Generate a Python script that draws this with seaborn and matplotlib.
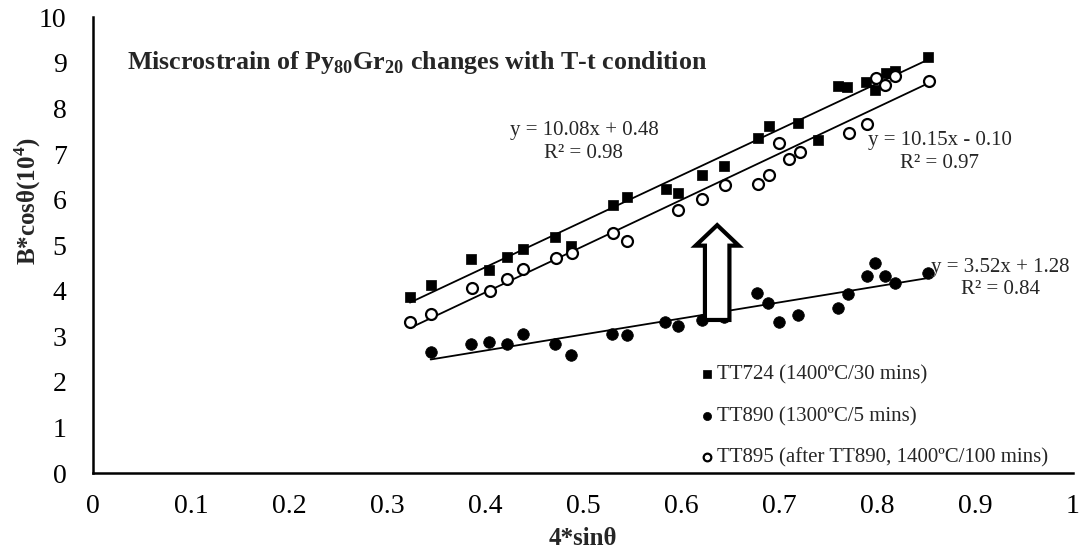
import numpy as np
import pandas as pd
import matplotlib
matplotlib.use("Agg")
import matplotlib.pyplot as plt
import seaborn as sns

# --- data -------------------------------------------------------------
tt724_x = [0.3235, 0.3446, 0.3854, 0.4044, 0.4221, 0.4385, 0.4714, 0.4874,
           0.5309, 0.5446, 0.5847, 0.5966, 0.6211, 0.6442, 0.6783, 0.6895,
           0.7197, 0.7401, 0.7605, 0.7697, 0.7888, 0.7980, 0.8090, 0.8180,
           0.8520]
tt724_y = [3.87, 4.12, 4.69, 4.45, 4.74, 4.91, 5.17, 4.98,
           5.88, 6.05, 6.24, 6.15, 6.54, 6.74, 7.36, 7.61,
           7.68, 7.30, 8.49, 8.46, 8.58, 8.41, 8.78, 8.82,
           9.12]

tt890_x = [0.3446, 0.3854, 0.4040, 0.4221, 0.4385, 0.4714, 0.4874,
           0.5299, 0.5446, 0.5837, 0.5966, 0.6211, 0.6442, 0.6772, 0.6891,
           0.6997, 0.7197, 0.7605, 0.7700, 0.7895, 0.7980, 0.8080, 0.8180,
           0.8520]
tt890_y = [2.66, 2.83, 2.88, 2.83, 3.06, 2.84, 2.59,
           3.05, 3.03, 3.32, 3.22, 3.36, 3.43, 3.96, 3.74,
           3.31, 3.46, 3.63, 3.93, 4.32, 4.61, 4.33, 4.16,
           4.40]

tt895_x = [0.3235, 0.3446, 0.3864, 0.4051, 0.4221, 0.4385, 0.4724, 0.4885,
           0.5309, 0.5446, 0.5973, 0.6211, 0.6449, 0.6789, 0.6895, 0.7003,
           0.7105, 0.7214, 0.7711, 0.7895, 0.7990, 0.8080, 0.8180, 0.8530]
tt895_y = [3.32, 3.48, 4.07, 4.00, 4.25, 4.47, 4.71, 4.83,
           5.27, 5.09, 5.77, 6.02, 6.33, 6.34, 6.54, 7.24,
           6.89, 7.05, 7.45, 7.65, 8.66, 8.52, 8.72, 8.60]

series_names = ["TT724 (1400ºC/30 mins)",
                "TT890 (1300ºC/5 mins)",
                "TT895 (after TT890, 1400ºC/100 mins)"]

# linear trend coefficients (slope, intercept) and R²
trend_slope = [10.08, 3.52, 10.15]
trend_intercept = [0.48, 1.28, -0.10]
trend_r2 = [0.98, 0.84, 0.97]

x_ticks = [0, 0.1, 0.2, 0.3, 0.4, 0.5, 0.6, 0.7, 0.8, 0.9, 1]
y_ticks = list(range(0, 11))

# --- style ------------------------------------------------------------
sns.set_theme(style="white")
plt.rcParams["font.family"] = ["Liberation Serif", "DejaVu Serif"]
plt.rcParams["mathtext.fontset"] = "custom"
plt.rcParams["mathtext.rm"] = "Liberation Serif"
plt.rcParams["mathtext.bf"] = "Liberation Serif:bold"

fig = plt.figure(figsize=(10.81, 5.56), dpi=100)
ax = fig.add_axes([0.086, 0.149, 0.9065, 0.820])

frames = [
    pd.DataFrame({"x": tt724_x, "y": tt724_y, "s": series_names[0]}),
    pd.DataFrame({"x": tt890_x, "y": tt890_y, "s": series_names[1]}),
    pd.DataFrame({"x": tt895_x, "y": tt895_y, "s": series_names[2]}),
]

sns.scatterplot(data=frames[0], x="x", y="y", marker="s", s=55,
                color="black", edgecolor="black", linewidth=0.5,
                label=series_names[0], ax=ax, zorder=3)
sns.scatterplot(data=frames[1], x="x", y="y", marker="o", s=70,
                color="black", edgecolor="black", linewidth=0.5,
                label=series_names[1], ax=ax, zorder=3)
sns.scatterplot(data=frames[2], x="x", y="y", marker="o", s=62,
                facecolor="white", edgecolor="black", linewidth=1.6,
                label=series_names[2], ax=ax, zorder=3)

# trend lines over each series' x-range
for df, m, b in zip(frames, trend_slope, trend_intercept):
    xs = np.array([df["x"].min(), df["x"].max()])
    ax.plot(xs, m * xs + b, color="black", lw=1.3, zorder=2)

# equation labels
def eq_text(m, b):
    sign = "+" if b >= 0 else "-"
    return f"y = {m:.2f}x {sign} {abs(b):.2f}"

eq_fs = 15
ax.text(0.501, 7.52, eq_text(trend_slope[0], trend_intercept[0]),
        ha="center", va="center", fontsize=eq_fs)
ax.text(0.501, 7.02, f"R² = {trend_r2[0]:.2f}",
        ha="center", va="center", fontsize=eq_fs)
ax.text(0.864, 7.30, eq_text(trend_slope[2], trend_intercept[2]),
        ha="center", va="center", fontsize=eq_fs)
ax.text(0.864, 6.80, f"R² = {trend_r2[2]:.2f}",
        ha="center", va="center", fontsize=eq_fs)
ax.text(0.926, 4.52, eq_text(trend_slope[1], trend_intercept[1]),
        ha="center", va="center", fontsize=eq_fs)
ax.text(0.926, 4.02, f"R² = {trend_r2[1]:.2f}",
        ha="center", va="center", fontsize=eq_fs)

# heading inside the plot
ax.text(0.035, 9.0,
        r"Miscrostrain of Py$_{\mathbf{80}}$Gr$_{\mathbf{20}}$ changes with T-t condition",
        ha="left", va="center", fontsize=18.7, fontweight="bold")

# hollow upward arrow between the TT890 and TT895 groups
ax.arrow(0.637, 3.36, 0, 2.08, width=0.025, head_width=0.044,
         head_length=0.45, length_includes_head=True,
         facecolor="white", edgecolor="black", lw=3, zorder=4)

# axes
ax.set_xlim(0, 1)
ax.set_ylim(0, 10)
ax.set_xticks(x_ticks)
ax.set_xticklabels([f"{t:g}" for t in x_ticks])
ax.set_yticks(y_ticks)
ax.set_xlabel("4*sinθ", fontsize=18, fontweight="bold", va="center")
ax.set_ylabel(r"B*cosθ(10$^{\mathbf{4}}$)", fontsize=18, fontweight="bold",
              va="center")
ax.xaxis.set_label_coords(0.5, -0.1425)
ax.yaxis.set_label_coords(-0.067, 0.596)
ax.tick_params(axis="both", direction="in", length=6, width=1.5,
               labelsize=20, colors="black")
ax.tick_params(axis="x", pad=15)
ax.tick_params(axis="y", pad=19)
for side in ["top", "right"]:
    ax.spines[side].set_visible(False)
for side in ["left", "bottom"]:
    ax.spines[side].set_linewidth(1.8)
    ax.spines[side].set_color("black")
ax.grid(False)

leg = ax.legend(loc="lower right", bbox_to_anchor=(0.994, -0.029),
                frameon=False, fontsize=15, handletextpad=0.0,
                labelspacing=1.05, markerscale=0.7, handlelength=1.0)

fig.savefig("out.png", dpi=100)
